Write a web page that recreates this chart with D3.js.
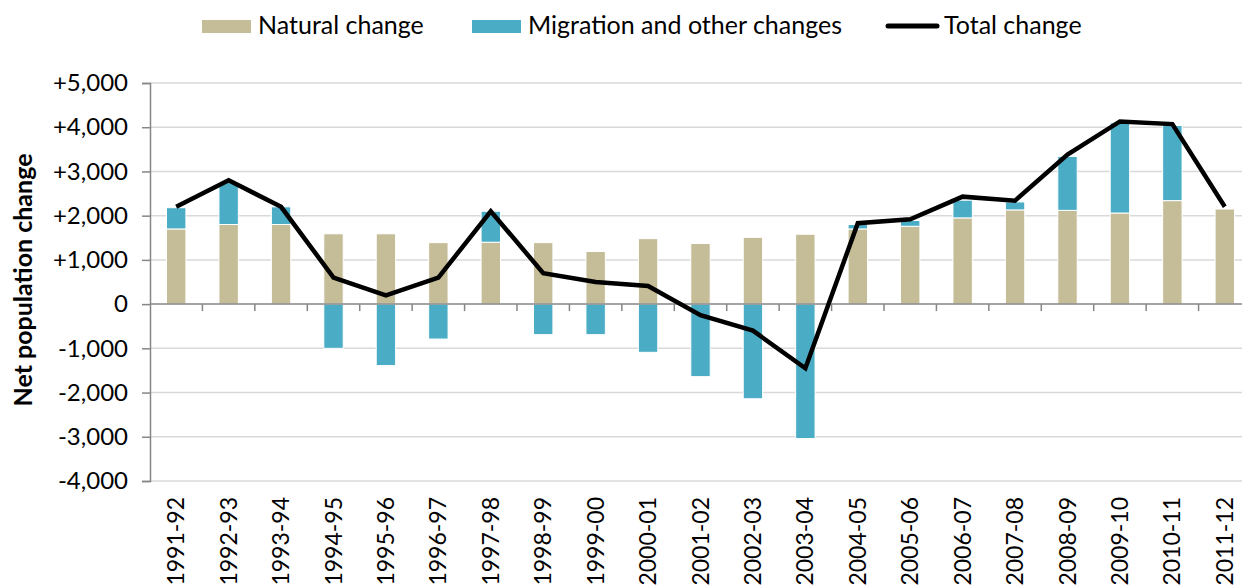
<!DOCTYPE html>
<html>
<head>
<meta charset="utf-8">
<script src="https://cdn.jsdelivr.net/npm/d3@7"></script>
<style>
  body { margin: 0; background: #fff; overflow: hidden; }
  svg { display: block; }
</style>
</head>
<body>
<script>
// data
var years = ["1991-92", "1992-93", "1993-94", "1994-95", "1995-96", "1996-97", "1997-98",
    "1998-99", "1999-00", "2000-01", "2001-02", "2002-03", "2003-04", "2004-05",
    "2005-06", "2006-07", "2007-08", "2008-09", "2009-10", "2010-11", "2011-12"];
var natural = [1700, 1800, 1800, 1590, 1590, 1390, 1400, 1390, 1190, 1480, 1370, 1510, 1580, 1700,
    1760, 1950, 2130, 2120, 2060, 2340, 2150];
var migration = [480, 950, 400, -1000, -1390, -790, 700, -690, -690, -1090, -1640, -2140, -3040, 100,
    130, 400, 180, 1220, 2040, 1700, 0];
var total = [2200, 2800, 2200, 600, 200, 600, 2100, 700, 500, 410, -250, -600, -1450, 1830,
    1920, 2430, 2340, 3380, 4130, 4070, 2200];
var yTicks = [-4000, -3000, -2000, -1000, 0, 1000, 2000, 3000, 4000, 5000];

var width = 1242, height = 586;
var x0 = 150, x1 = 1251, yTop = 83, yBot = 481;

var svg = d3.select("body").append("svg")
    .attr("width", width)
    .attr("height", height);

var x = d3.scaleBand().domain(years).range([x0, x1]).paddingInner(0.63).paddingOuter(0.315);
var y = d3.scaleLinear().domain([-4000, 5000]).range([yBot, yTop]);

var fmt = function(v) {
    if (v === 0) return "0";
    return (v > 0 ? "+" : "-") + d3.format(",")(Math.abs(v));
};

// gridlines
svg.append("g").selectAll("line")
    .data(yTicks.filter(function(d) { return d !== 0; }))
    .enter().append("line")
    .attr("x1", x0).attr("x2", width)
    .attr("y1", function(d) { return y(d); })
    .attr("y2", function(d) { return y(d); })
    .attr("stroke", "#d9d9d9")
    .attr("stroke-width", 1.5);

// y axis
var yAxis = svg.append("g")
    .attr("transform", "translate(" + x0 + ",0)")
    .call(d3.axisLeft(y).tickValues(yTicks).tickFormat(fmt).tickSize(8).tickPadding(14));
yAxis.select(".domain").attr("stroke", "#868686").attr("stroke-width", 1.5);
yAxis.selectAll(".tick line").attr("stroke", "#868686").attr("stroke-width", 1.5);
yAxis.selectAll("text")
    .attr("font-family", "Lato, sans-serif")
    .attr("font-size", 24)
    .attr("fill", "#000");

// stacked bars
var rows = years.map(function(d, i) {
    return { year: d, natural: natural[i], migration: migration[i] };
});
var series = d3.stack()
    .keys(["natural", "migration"])
    .offset(d3.stackOffsetDiverging)(rows);
var color = { natural: "#c4bd97", migration: "#4bacc6" };

svg.append("g").selectAll("g")
    .data(series)
    .enter().append("g")
    .attr("fill", function(s) { return color[s.key]; })
    .selectAll("rect")
    .data(function(s) { return s; })
    .enter().append("rect")
    .attr("x", function(d) { return x(d.data.year); })
    .attr("width", x.bandwidth())
    .attr("y", function(d) { return y(Math.max(d[0], d[1])); })
    .attr("height", function(d) { return Math.abs(y(d[0]) - y(d[1])); })
    .attr("stroke", "#fff")
    .attr("stroke-width", 1);

// zero axis with category ticks
svg.append("line")
    .attr("x1", x0).attr("x2", width)
    .attr("y1", y(0)).attr("y2", y(0))
    .attr("stroke", "#868686").attr("stroke-width", 1.5);
svg.append("g").selectAll("line")
    .data(years.slice(1))
    .enter().append("line")
    .attr("x1", function(d) { return x(d) - x.step() * x.paddingInner() / 2; })
    .attr("x2", function(d) { return x(d) - x.step() * x.paddingInner() / 2; })
    .attr("y1", y(0)).attr("y2", y(0) + 7)
    .attr("stroke", "#868686").attr("stroke-width", 1.5);

// total change line
var line = d3.line()
    .x(function(d, i) { return x(years[i]) + x.bandwidth() / 2; })
    .y(function(d) { return y(d); });
svg.append("path")
    .datum(total)
    .attr("d", line)
    .attr("fill", "none")
    .attr("stroke", "#000")
    .attr("stroke-width", 4.5)
    .attr("stroke-linejoin", "miter");

// x labels, rotated
svg.append("g").selectAll("text")
    .data(years)
    .enter().append("text")
    .attr("transform", function(d) {
        return "translate(" + (x(d) + x.bandwidth() / 2 + 8) + "," + 497 + ") rotate(-90)";
    })
    .attr("text-anchor", "end")
    .attr("font-family", "Lato, sans-serif")
    .attr("font-size", 23)
    .text(function(d) { return d; });

// y axis title
svg.append("text")
    .attr("transform", "translate(32,280) rotate(-90)")
    .attr("text-anchor", "middle")
    .attr("font-family", "Lato, sans-serif")
    .attr("font-weight", "bold")
    .attr("font-size", 25)
    .text("Net population change");

// legend
var legendItems = [
    { label: "Natural change", kind: "rect", color: color.natural, x: 202 },
    { label: "Migration and other changes", kind: "rect", color: color.migration, x: 472 },
    { label: "Total change", kind: "line", color: "#000", x: 888 }
];
var leg = svg.append("g").selectAll("g")
    .data(legendItems)
    .enter().append("g")
    .attr("transform", function(d) { return "translate(" + d.x + ",26)"; });
leg.filter(function(d) { return d.kind === "rect"; })
    .append("rect")
    .attr("x", 0).attr("y", -6).attr("width", 49).attr("height", 13)
    .attr("fill", function(d) { return d.color; });
leg.filter(function(d) { return d.kind === "line"; })
    .append("line")
    .attr("x1", 0).attr("x2", 49).attr("y1", 0).attr("y2", 0)
    .attr("stroke", "#000").attr("stroke-width", 5).attr("stroke-linecap", "round");
leg.append("text")
    .attr("x", 56).attr("y", 8)
    .attr("font-family", "Lato, sans-serif")
    .attr("font-size", 25)
    .text(function(d) { return d.label; });
</script>
</body>
</html>
